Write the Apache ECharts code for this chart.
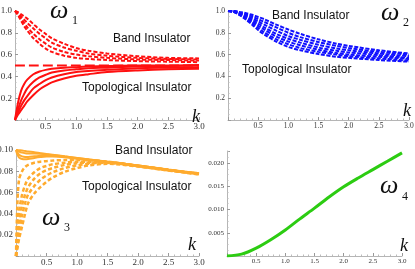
<!DOCTYPE html>
<html><head><meta charset="utf-8">
<script src="https://cdn.jsdelivr.net/npm/echarts@6/dist/echarts.min.js"></script>
<style>html,body{margin:0;padding:0;background:#fff}#c{width:415px;height:269px}</style>
</head><body><div id="c"></div>
<script>
// ---- Data ----
const kRed = [0,0.05,0.1,0.15,0.2,0.3,0.4,0.5,0.6,0.8,1.0,1.2,1.5,2.0,2.5,3.0];
const w1Dashed1 = [1.0,0.99,0.97,0.95,0.93,0.88,0.83,0.79,0.75,0.70,0.66,0.635,0.61,0.585,0.57,0.565];
const w1Dashed2 = [1.0,0.98,0.95,0.92,0.89,0.84,0.79,0.75,0.71,0.665,0.635,0.61,0.59,0.57,0.56,0.555];
const w1Dashed3 = [1.0,0.97,0.93,0.89,0.85,0.79,0.74,0.70,0.665,0.625,0.60,0.585,0.57,0.555,0.55,0.545];
const w1Dashed4 = [1.0,0.96,0.91,0.86,0.82,0.75,0.70,0.655,0.625,0.59,0.57,0.56,0.55,0.54,0.535,0.53];
const w1Solid1 = [0,0.16,0.27,0.33,0.37,0.42,0.445,0.46,0.47,0.48,0.485,0.49,0.495,0.50,0.50,0.505];
const w1Solid2 = [0,0.10,0.18,0.24,0.29,0.35,0.39,0.415,0.435,0.455,0.465,0.475,0.48,0.49,0.495,0.50];
const w1Solid3 = [0,0.07,0.13,0.18,0.22,0.29,0.33,0.365,0.39,0.42,0.44,0.45,0.46,0.475,0.48,0.485];
const w1Solid4 = [0,0.05,0.09,0.13,0.17,0.23,0.28,0.315,0.345,0.38,0.405,0.42,0.44,0.455,0.465,0.47];
const w1HalfK = [0,3.0];
const w1Half = [0.5,0.5];

const kBlue = [0,0.1,0.2,0.3,0.4,0.5,0.6,0.8,1.0,1.2,1.5,1.8,2.0,2.5,3.0];
const w2c1 = [1.00,1.00,0.99,0.98,0.965,0.945,0.925,0.875,0.83,0.79,0.74,0.70,0.68,0.64,0.61];
const w2c2 = [1.00,1.00,0.985,0.97,0.95,0.925,0.90,0.85,0.80,0.76,0.715,0.68,0.66,0.625,0.60];
const w2c3 = [1.00,0.995,0.98,0.96,0.935,0.905,0.875,0.82,0.77,0.735,0.69,0.655,0.64,0.61,0.585];
const w2c4 = [1.00,0.995,0.975,0.95,0.92,0.885,0.85,0.79,0.745,0.71,0.665,0.635,0.62,0.595,0.57];
const w2c5 = [1.00,0.99,0.97,0.94,0.905,0.865,0.83,0.765,0.72,0.685,0.645,0.615,0.60,0.58,0.56];
const w2c6 = [1.00,0.99,0.965,0.93,0.89,0.845,0.805,0.74,0.695,0.66,0.625,0.60,0.585,0.565,0.545];
const w2c7 = [1.00,0.99,0.96,0.92,0.875,0.825,0.785,0.72,0.67,0.64,0.605,0.58,0.57,0.55,0.535];

const kOrange = [0,0.02,0.05,0.1,0.15,0.2,0.3,0.4,0.5,0.6,0.8,1.0,1.2,1.5,2.0,2.5,3.0];
const w3Solid1 = [0.100,0.100,0.0998,0.0995,0.099,0.0985,0.098,0.097,0.0962,0.0955,0.094,0.0925,0.091,0.089,0.0855,0.0815,0.0778];
const w3Solid2 = [0.100,0.0995,0.0985,0.0975,0.097,0.0968,0.0968,0.0965,0.096,0.0953,0.0938,0.0924,0.091,0.0889,0.0854,0.0814,0.0777];
const w3Solid3 = [0.100,0.098,0.0955,0.094,0.0935,0.0935,0.094,0.0945,0.0948,0.0945,0.0935,0.092,0.0907,0.0888,0.0853,0.0813,0.0776];
const w3Solid4 = [0.100,0.096,0.093,0.0915,0.0912,0.0915,0.0925,0.0933,0.0938,0.0938,0.0932,0.0918,0.0905,0.0886,0.0852,0.0812,0.0775];
const w3Dashed1 = [0,0.045,0.072,0.08,0.084,0.086,0.088,0.089,0.0895,0.09,0.0905,0.0905,0.0903,0.089,0.0852,0.0812,0.078];
const w3Dashed2 = [0,0.02,0.042,0.058,0.067,0.073,0.079,0.083,0.085,0.0865,0.088,0.089,0.089,0.0885,0.085,0.081,0.0777];
const w3Dashed3 = [0,0.013,0.03,0.048,0.058,0.065,0.073,0.078,0.081,0.083,0.086,0.0875,0.088,0.088,0.0848,0.081,0.0775];
const w3Dashed4 = [0,0.009,0.022,0.038,0.05,0.058,0.066,0.072,0.076,0.079,0.083,0.0855,0.087,0.0878,0.0846,0.0808,0.0772];
const w3Dashed5 = [0,0.006,0.016,0.028,0.040,0.050,0.059,0.065,0.070,0.074,0.0795,0.083,0.0855,0.087,0.0845,0.0806,0.077];

const kGreen = [0,0.25,0.5,0.75,1.0,1.25,1.5,1.75,2.0,2.25,2.5,2.75,3.0];
const w4 = [0,0.0004,0.0017,0.0035,0.0056,0.008,0.0103,0.0127,0.0149,0.0168,0.0186,0.0204,0.0222];

const xTickLabels = ['0.5','1.0','1.5','2.0','2.5','3.0'];

// ---- Build chart ----
const RED='#ff1010', BLUE='#1010ff', ORANGE='#ffab2e', GREEN='#2ccc12';
const pairs = (ks, vs) => ks.map((k,i)=>[k, vs[i]]);

function xAx(gi, fs){
  return {type:'value', gridIndex:gi, min:0, max:3, interval:0.5,
    axisLine:{show:true,onZero:false,lineStyle:{color:'#b5b5b5',width:1}},
    axisTick:{show:true,inside:true,length:3,lineStyle:{color:'#999'}},
    minorTick:{show:true,splitNumber:5,length:1.5,lineStyle:{color:'#bbb'}},
    splitLine:{show:false},
    axisLabel:{fontFamily:'Liberation Serif',fontSize:fs,color:'#333',margin:2,showMinLabel:false,
      formatter:v=>{const i=Math.round(v/0.5)-1; return (i>=0 && Math.abs(v/0.5-Math.round(v/0.5))<1e-6)? xTickLabels[i]:'';}}};
}
function yAx(gi, max, interval, dec, fs){
  return {type:'value', gridIndex:gi, min:0, max:max, interval:interval,
    axisLine:{show:true,onZero:false,lineStyle:{color:'#b5b5b5',width:1}},
    axisTick:{show:true,inside:true,length:3,lineStyle:{color:'#999'}},
    minorTick:{show:true,splitNumber:4,length:1.5,lineStyle:{color:'#bbb'}},
    splitLine:{show:false},
    axisLabel:{fontFamily:'Liberation Serif',fontSize:fs,color:'#333',margin:3,showMinLabel:false,
      formatter:v=>(Math.abs(v/interval-Math.round(v/interval))<1e-6 && v>0 && v<=max+1e-9)? v.toFixed(dec):''}};
}
function line(xi, ks, vs, color, width, dash, z){
  return {type:'line', xAxisIndex:xi, yAxisIndex:xi, data:pairs(ks,vs), showSymbol:false, symbol:'none',
    smooth:0.3, clip:true, z:z||2,
    lineStyle:{color:color,width:width,type:dash||'solid'}, animation:false};
}

const series = [
  line(0,w1HalfK,w1Half,RED,2,[10,4],1),
  line(0,kRed,w1Dashed1,RED,2,[4,2]),
  line(0,kRed,w1Dashed2,RED,2,[4,2]),
  line(0,kRed,w1Dashed3,RED,2,[4,2]),
  line(0,kRed,w1Dashed4,RED,2,[4,2]),
  line(0,kRed,w1Solid1,RED,2),
  line(0,kRed,w1Solid2,RED,2),
  line(0,kRed,w1Solid3,RED,2),
  line(0,kRed,w1Solid4,RED,2),
  line(1,kBlue,w2c1,BLUE,2,[4,1.5]),
  line(1,kBlue,w2c2,BLUE,2,[4,1.5]),
  line(1,kBlue,w2c3,BLUE,2,[4,1.5]),
  line(1,kBlue,w2c4,BLUE,2,[4,1.5]),
  line(1,kBlue,w2c5,BLUE,2,[4,1.5]),
  line(1,kBlue,w2c6,BLUE,2,[4,1.5]),
  line(1,kBlue,w2c7,BLUE,2,[4,1.5]),
  line(2,kOrange,w3Solid1,ORANGE,2),
  line(2,kOrange,w3Solid2,ORANGE,2),
  line(2,kOrange,w3Solid3,ORANGE,2),
  line(2,kOrange,w3Solid4,ORANGE,2),
  line(2,kOrange,w3Dashed1,ORANGE,2.5,[4,2.5]),
  line(2,kOrange,w3Dashed2,ORANGE,2.5,[4,2.5]),
  line(2,kOrange,w3Dashed3,ORANGE,2.5,[4,2.5]),
  line(2,kOrange,w3Dashed4,ORANGE,2.5,[4,2.5]),
  line(2,kOrange,w3Dashed5,ORANGE,2.5,[4,2.5]),
  line(3,kGreen,w4,GREEN,3)
];

const serif = 'Liberation Serif';
function txt(x,y,text,font,align,base){
  return {type:'text', x:x, y:y, silent:true, z:100,
    style:{text:text, font:font, fill:'#111', textAlign:align||'left', textVerticalAlign:base||'middle'}};
}
const lab = '12px "Liberation Sans"';
const omg = 'italic 26px "'+serif+'"';
const sub = '12px "'+serif+'"';
const kf = 'italic 18px "'+serif+'"';

const graphic = [
  txt(113,39,'Band Insulator',lab), txt(82,88,'Topological Insulator',lab),
  txt(272,16,'Band Insulator',lab), txt(242,70,'Topological Insulator',lab),
  txt(115,151,'Band Insulator',lab), txt(82,187,'Topological Insulator',lab),
  txt(50,24,'ω',omg,'left','bottom'), txt(72,27,'1',sub,'left','bottom'),
  txt(381,26,'ω',omg,'left','bottom'), txt(403,29,'2',sub,'left','bottom'),
  txt(42,231,'ω',omg,'left','bottom'), txt(64,234,'3',sub,'left','bottom'),
  txt(380,199,'ω',omg,'left','bottom'), txt(402,203,'4',sub,'left','bottom'),
  txt(192,126,'k',kf,'left','bottom'), txt(403,120,'k',kf,'left','bottom'),
  txt(188,254,'k',kf,'left','bottom'), txt(400,255,'k',kf,'left','bottom')
];

const option = {
  animation:false, backgroundColor:'#fff',
  grid:[
    {left:15,top:11,width:184,height:109,outerBoundsMode:'none',containLabel:false},
    {left:228,top:11,width:181,height:109,outerBoundsMode:'none',containLabel:false},
    {left:16,top:150,width:183,height:106,outerBoundsMode:'none',containLabel:false},
    {left:227,top:151,width:175,height:105,outerBoundsMode:'none',containLabel:false}
  ],
  xAxis:[xAx(0,9),xAx(1,7.5),xAx(2,9),xAx(3,7)],
  yAxis:[yAx(0,1.0,0.2,1,9),yAx(1,1.0,0.2,1,7.5),yAx(2,0.10,0.02,2,9),yAx(3,0.0226,0.005,3,7)],
  series:series,
  graphic:graphic
};
const chart = echarts.init(document.getElementById('c'),null,{renderer:'canvas'});
chart.setOption(option);
</script></body></html>
